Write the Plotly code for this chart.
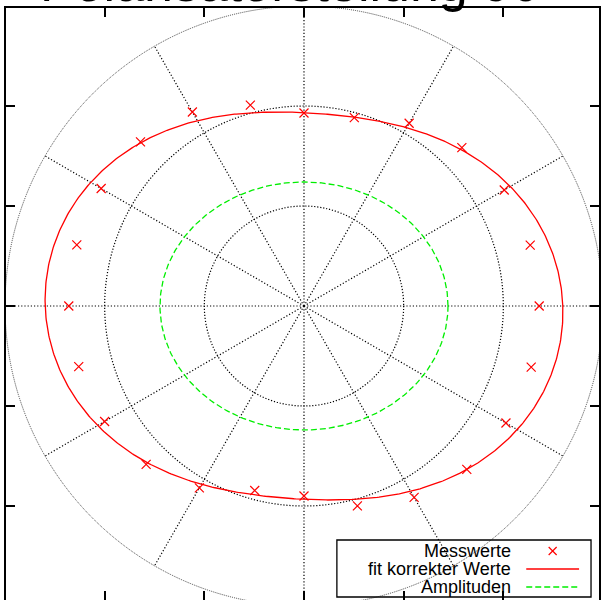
import numpy as np
import plotly.graph_objects as go

# Messwerte: Winkel des Analysators (Grad) und gemessene Radien
winkel = list(range(0, 360, 15))
messwerte = [2.36, 2.35, 2.32, 2.24, 2.11, 1.95, 1.93, 2.08, 2.24, 2.32, 2.35, 2.36,
             2.36, 2.34, 2.31, 2.24, 2.10, 1.91, 1.90, 2.07, 2.21, 2.31, 2.34, 2.36]

# Fitparameter: r(t) = c + d * cos^2(t - phi)
fit_c, fit_d, fit_phi = 1.93, 0.67, -4.0
# Halbachsen der Amplitudenellipse
amp_a, amp_b = 1.445, 1.24

# polares Gitter und Achsenticks
grid_radii = [1, 2, 3]
spoke_angles = list(range(0, 360, 30))
tick_vals = [-2, -1, 0, 1, 2]

FONT = "Liberation Sans, Arial, sans-serif"
W, H = 601, 600
ML, MR, MT, MB = 6, 0, 8, 0
PW, PH = W - ML - MR, H - MT - MB


def px(x):
    return (x - ML) / PW


def py(y):
    return 1 - (y - MT) / PH


def pol(r, deg):
    t = np.radians(np.asarray(deg, dtype=float))
    r = np.asarray(r, dtype=float)
    return r * np.cos(t), r * np.sin(t)


fig = go.Figure()

# Fitkurve
t_fit = np.linspace(0, 360, 721)
r_fit = fit_c + fit_d * np.cos(np.radians(t_fit - fit_phi)) ** 2
xf, yf = pol(r_fit, t_fit)
fig.add_trace(go.Scatter(x=xf, y=yf, mode="lines",
                         line=dict(color="#ff0000", width=1.3),
                         name="fit korrekter Werte", showlegend=False))

# Amplitudenellipse
t_amp = np.radians(np.linspace(0, 360, 361))
fig.add_trace(go.Scatter(x=amp_a * np.cos(t_amp), y=amp_b * np.sin(t_amp), mode="lines",
                         line=dict(color="#00ee00", width=1.3, dash="6px,3px"),
                         name="Amplituden", showlegend=False))

# Messpunkte
xm, ym = pol(messwerte, winkel)
fig.add_trace(go.Scatter(x=xm, y=ym, mode="markers",
                         marker=dict(symbol="x-thin", size=9,
                                     line=dict(color="#ff0000", width=1.2)),
                         name="Messwerte", showlegend=False))

shapes = []
# Gitterkreise
for r in grid_radii:
    shapes.append(dict(type="circle", xref="x", yref="y", x0=-r, y0=-r, x1=r, y1=r,
                       layer="below",
                       line=dict(color="#000000" if r < 3 else "#444444",
                                 width=1.2 if r < 3 else 1,
                                 dash="1.2px,1.8px" if r < 3 else "1px,1px")))
# Speichen
r_max = max(grid_radii)
for a in spoke_angles:
    xe, ye = pol(r_max, a)
    shapes.append(dict(type="line", xref="x", yref="y", x0=0, y0=0,
                       x1=float(xe), y1=float(ye), layer="below",
                       line=dict(color="#000000", width=1.2, dash="1.2px,2px")))

# Legendenrahmen
lx0, lx1, ly0, ly1 = 338, 593, 540, 597
shapes.append(dict(type="rect", xref="paper", yref="paper",
                   x0=px(lx0), x1=px(lx1), y0=py(ly1), y1=py(ly0),
                   line=dict(color="#000000", width=1.3), fillcolor="rgba(0,0,0,0)"))
rows = [551, 569, 587]
sx0, sx1 = 528, 581
sc = (sx0 + sx1) / 2
d = 4
shapes.append(dict(type="path", xref="paper", yref="paper",
                   path=(f"M {px(sc-d)} {py(rows[0]-d)} L {px(sc+d)} {py(rows[0]+d)} "
                         f"M {px(sc-d)} {py(rows[0]+d)} L {px(sc+d)} {py(rows[0]-d)}"),
                   line=dict(color="#ff0000", width=1.2)))
shapes.append(dict(type="line", xref="paper", yref="paper",
                   x0=px(sx0), x1=px(sx1), y0=py(rows[1]), y1=py(rows[1]),
                   line=dict(color="#ff0000", width=1.3)))
shapes.append(dict(type="line", xref="paper", yref="paper",
                   x0=px(sx0), x1=px(sx1), y0=py(rows[2]), y1=py(rows[2]),
                   line=dict(color="#00ee00", width=1.3, dash="6px,3px")))

annotations = []
for txt, ry in zip(["Messwerte", "fit korrekter Werte", "Amplituden"], rows):
    annotations.append(dict(text=txt, x=px(515), y=py(ry), xref="paper", yref="paper",
                            xanchor="right", yanchor="middle", showarrow=False,
                            font=dict(family=FONT, size=18, color="#000000")))

# Titel (ragt oben aus dem Bild)
annotations.append(dict(text="Polarisatorstellung 90", x=px(291), y=py(-17),
                        xref="paper", yref="paper", xanchor="center", yanchor="middle",
                        showarrow=False,
                        font=dict(family=FONT, size=52, color="#000000")))

axis_common = dict(showgrid=False, zeroline=False, showline=True, linecolor="#000000",
                   linewidth=2, mirror="ticks", ticks="inside", ticklen=9, tickwidth=1.5,
                   tickcolor="#000000", tickvals=tick_vals, showticklabels=False,
                   fixedrange=True)

fig.update_layout(
    width=W, height=H,
    margin=dict(l=ML, r=MR, t=MT, b=MB, pad=0),
    paper_bgcolor="white", plot_bgcolor="white",
    showlegend=False,
    xaxis=dict(range=[-(305 - ML) / 100, (W - 305) / 100], **axis_common),
    yaxis=dict(range=[-(H - 306) / 100, (306 - MT) / 100], **axis_common),
    shapes=shapes,
    annotations=annotations,
)

fig.write_html("out.html")
